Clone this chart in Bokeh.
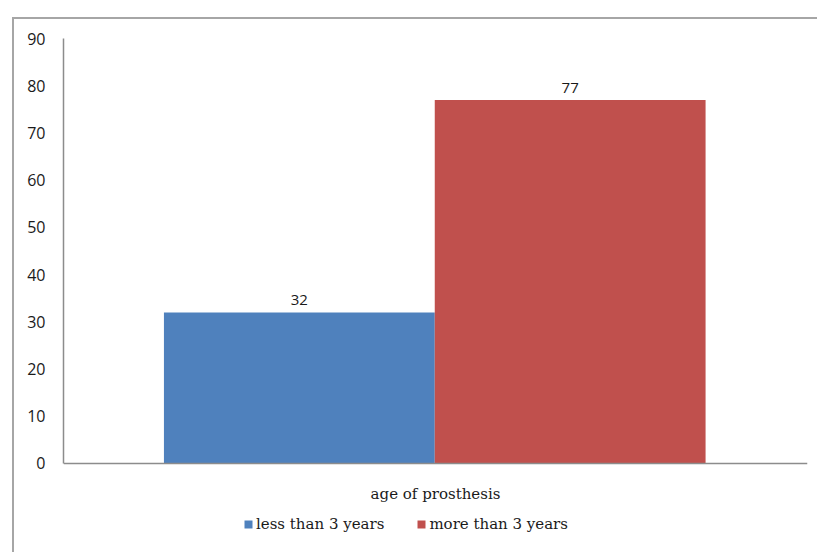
from bokeh.plotting import figure
from bokeh.models import ColumnDataSource, FactorRange, Range1d, Legend, LegendItem, LabelSet, FixedTicker
from bokeh.core.properties import value
from bokeh.transform import dodge
from bokeh.embed import file_html
from bokeh.resources import INLINE

category = ["age of prosthesis"]
series = ["less than 3 years", "more than 3 years"]
values_less = [32]
values_more = [77]
y_ticks = [0, 10, 20, 30, 40, 50, 60, 70, 80, 90]
colors = ["#4F81BD", "#C0504D"]

src_less = ColumnDataSource(dict(x=category, y=values_less, lab=[str(v) for v in values_less]))
src_more = ColumnDataSource(dict(x=category, y=values_more, lab=[str(v) for v in values_more]))

p = figure(frame_width=744, frame_height=514, x_range=FactorRange(*category, range_padding=0),
           y_range=Range1d(-18.85, 90), output_backend="svg", toolbar_location=None,
           min_border_left=49, min_border_right=10, min_border_top=19, min_border_bottom=0)
p.margin = (17, 0, 0, 12)
p.styles = {"border-left": "2px solid #a6a6a6", "border-top": "2px solid #a6a6a6"}
p.outline_line_color = None
p.xgrid.grid_line_color = None
p.ygrid.grid_line_color = None

w = 0.364
r1 = p.vbar(x=dodge("x", -0.183, range=p.x_range), top="y", bottom=0, width=w, source=src_less,
            fill_color=colors[0], line_color=None)
r2 = p.vbar(x=dodge("x", 0.181, range=p.x_range), top="y", bottom=0, width=w, source=src_more,
            fill_color=colors[1], line_color=None)

for s, off in ((src_less, -0.183), (src_more, 0.181)):
    p.add_layout(LabelSet(x=dodge("x", off, range=p.x_range), y="y", text="lab", source=s,
                          text_align="center", text_baseline="bottom", y_offset=7,
                          text_font=value("Open Sans"), text_font_size="15px", text_color="#1a1a1a"))

p.yaxis.ticker = FixedTicker(ticks=y_ticks)
p.yaxis.bounds = (0, 90)
p.xaxis.fixed_location = 0
for ax in (p.xaxis[0], p.yaxis[0]):
    ax.axis_line_color = "#8c8c8c"
    ax.axis_line_width = 1.5
    ax.major_tick_line_color = None
    ax.minor_tick_line_color = None
p.yaxis.major_label_text_font = "Open Sans"
p.yaxis.major_label_text_font_size = "16px"
p.yaxis.major_label_text_color = "#1a1a1a"
p.yaxis.major_label_standoff = 12
p.xaxis.major_label_text_font = "DejaVu Serif"
p.xaxis.major_label_text_font_size = "15px"
p.xaxis.major_label_text_color = "#1a1a1a"
p.xaxis.major_label_standoff = 16

legend = Legend(items=[LegendItem(label=series[0], renderers=[r1]),
                       LegendItem(label=series[1], renderers=[r2])],
                orientation="horizontal", location=(180, 18),
                label_text_font="DejaVu Serif", label_text_font_size="15px",
                label_text_color="#1a1a1a", glyph_width=10, glyph_height=10,
                label_height=20, spacing=32, label_standoff=3, border_line_color=None,
                background_fill_alpha=0, margin=0, padding=0)
p.add_layout(legend, "center")

open("out.html", "w").write(file_html(p, INLINE))
